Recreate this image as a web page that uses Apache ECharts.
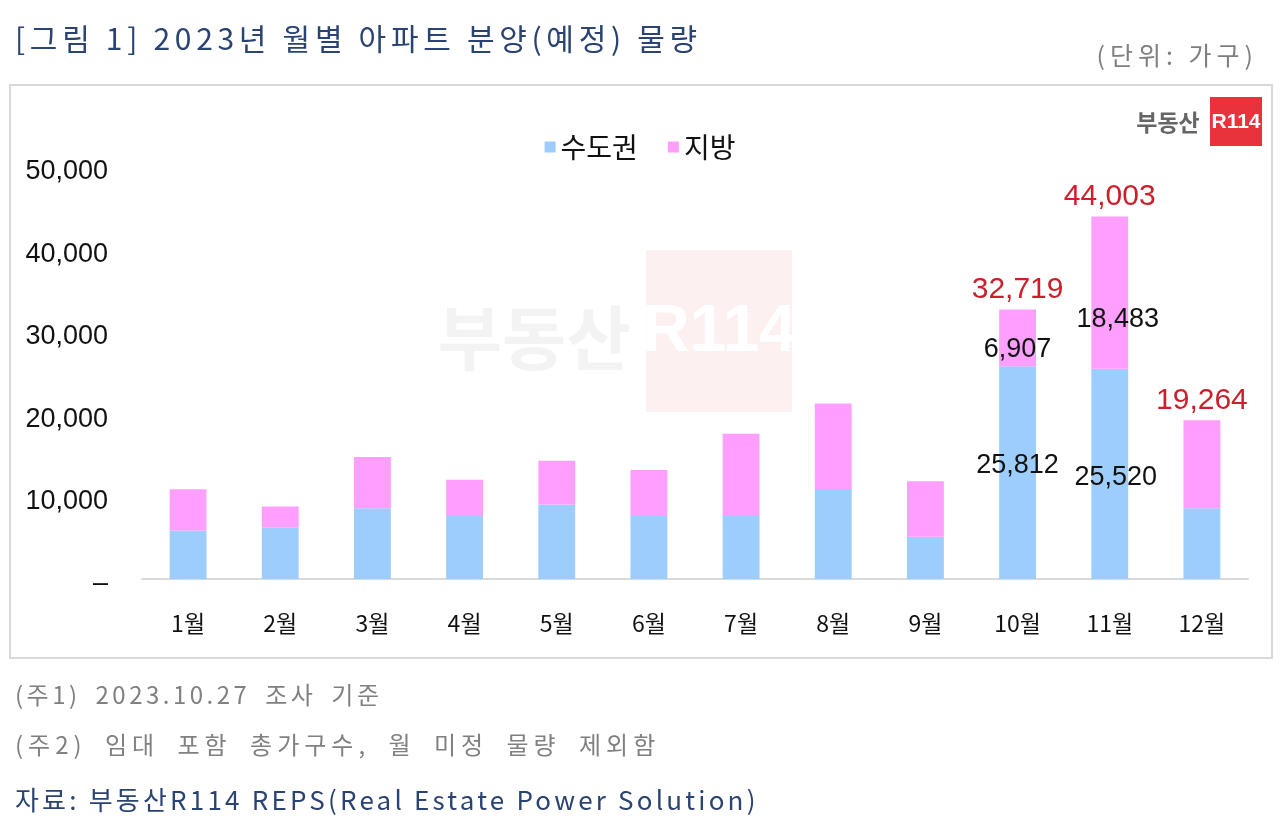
<!DOCTYPE html>
<html>
<head>
<meta charset="utf-8">
<script src="https://cdn.jsdelivr.net/npm/echarts@6/dist/echarts.min.js"></script>
<style>
  html, body { margin: 0; padding: 0; background: #fff; }
  .wrap { position: relative; width: 1280px; height: 827px; }
  #chart { width: 1280px; height: 827px; }
  .txt {
    position: absolute;
    font-family: "Noto Sans CJK KR", sans-serif;
    white-space: nowrap;
    line-height: 1;
  }
  .title { left: 15px; top: 22px; font-size: 30px; letter-spacing: 4.7px; color: #2a4372; }
  .unit { right: 22px; top: 42px; font-size: 25px; letter-spacing: 5px; color: #7f7f7f; }
  .note { left: 15px; font-size: 24px; letter-spacing: 3.5px; word-spacing: 6px; color: #808080; }
  .src { left: 15px; top: 786px; font-size: 26px; letter-spacing: 3.2px; color: #2a4372; }
</style>
</head>
<body>
<div class="wrap">
  <div id="chart"></div>
  <div class="txt title">[그림 1] 2023년 월별 아파트 분양(예정) 물량</div>
  <div class="txt unit">(단위: 가구)</div>
  <div class="txt note" style="top: 682px">(주1) 2023.10.27 조사 기준</div>
  <div class="txt note" style="top: 732px; letter-spacing: 5px; word-spacing: 8px">(주2) 임대 포함 총가구수, 월 미정 물량 제외함</div>
  <div class="txt src">자료: 부동산R114 REPS(Real Estate Power Solution)</div>
</div>
<script>
// 월별 분양 물량 (단위: 가구)
const months = ['1월', '2월', '3월', '4월', '5월', '6월', '7월', '8월', '9월', '10월', '11월', '12월']
const capital = [5880, 6280, 8580, 7660, 9030, 7660, 7660, 10930, 5120, 25812, 25520, 8580]
const local = [5000, 2510, 6230, 4400, 5330, 5580, 9980, 10380, 6730, 6907, 18483, 10684]
const totals = [null, null, null, null, null, null, null, null, null, 32719, 44003, 19264]
const yTicks = [0, 10000, 20000, 30000, 40000, 50000]

const FONT = '"Liberation Sans", "Noto Sans CJK KR", sans-serif'
const KFONT = '"Noto Sans CJK KR", sans-serif'

const fmt = v => v.toLocaleString('en-US')

// 라벨 위치 (막대 안 값 표시는 10월, 11월만)
const capitalLabel = { 9: [0, -7], 10: [6, 4] }
const localLabel = { 9: [0, 12], 10: [8, 27] }

function withLabels(values, offsets) {
  return values.map((v, i) => {
    if (!offsets[i]) return v
    return {
      value: v,
      label: {
        show: true,
        position: 'inside',
        offset: offsets[i],
        formatter: p => fmt(p.value)
      }
    }
  })
}

const chart = echarts.init(document.getElementById('chart'))

const option = {
  backgroundColor: '#fff',
  animation: false,
  legend: {
    data: ['수도권', '지방'],
    top: 128,
    left: 'center',
    itemWidth: 11,
    itemHeight: 11,
    itemGap: 30,
    icon: 'rect',
    textStyle: { fontFamily: KFONT, fontSize: 28, color: '#111' }
  },
  grid: { left: 142, right: 32, top: 167, bottom: 248 },
  xAxis: {
    type: 'category',
    data: months,
    axisLine: { lineStyle: { color: '#d9d9d9', width: 2 } },
    axisTick: { show: false },
    axisLabel: { margin: 33, fontFamily: KFONT, fontSize: 23, color: '#111' }
  },
  yAxis: {
    type: 'value',
    min: yTicks[0],
    max: yTicks[yTicks.length - 1],
    interval: yTicks[1] - yTicks[0],
    splitLine: { show: false },
    axisLine: { show: false },
    axisTick: { show: false },
    axisLabel: {
      margin: 34,
      verticalAlign: 'top',
      lineHeight: 10,
      fontFamily: FONT,
      fontSize: 27,
      color: '#111',
      formatter: v => (v === 0 ? '–' : fmt(v))
    }
  },
  series: [
    {
      name: '수도권',
      type: 'bar',
      stack: 'a',
      barWidth: '40%',
      itemStyle: { color: '#9dcdfd' },
      label: { show: false, fontFamily: FONT, fontSize: 27, color: '#111' },
      data: withLabels(capital, capitalLabel)
    },
    {
      name: '지방',
      type: 'bar',
      stack: 'a',
      barWidth: '40%',
      itemStyle: { color: '#fe9ffd' },
      label: { show: false, fontFamily: FONT, fontSize: 27, color: '#111' },
      data: withLabels(local, localLabel)
    },
    {
      name: '합계',
      type: 'bar',
      stack: 'a',
      barWidth: '40%',
      itemStyle: { color: 'transparent' },
      label: {
        show: true,
        position: 'top',
        distance: 5,
        fontFamily: FONT,
        fontSize: 30,
        color: '#cc1f2b',
        formatter: p => (totals[p.dataIndex] ? fmt(totals[p.dataIndex]) : '')
      },
      data: totals.map(() => 0)
    }
  ],
  graphic: [
    // 차트 테두리
    {
      type: 'rect', z: -10,
      shape: { x: 10, y: 85, width: 1262, height: 573 },
      style: { fill: 'none', stroke: '#d9d9d9', lineWidth: 2 }
    },
    // 워터마크
    {
      type: 'text', z: -5,
      style: { text: '부동산', x: 534, y: 338, align: 'center', verticalAlign: 'middle', font: 'bold 70px ' + KFONT, fill: '#f3f3f3' }
    },
    {
      type: 'rect', z: -5,
      shape: { x: 646, y: 250, width: 146, height: 162 },
      style: { fill: '#fdf0f0' }
    },
    {
      type: 'text', z: -4,
      style: { text: 'R114', x: 719, y: 333, align: 'center', verticalAlign: 'middle', font: 'bold 66px "Liberation Sans Narrow", "Liberation Sans", sans-serif', fill: '#ffffff' }
    },
    // 로고
    {
      type: 'text', z: 10,
      style: { text: '부동산', x: 1168, y: 122, align: 'center', verticalAlign: 'middle', font: 'bold 23px ' + KFONT, fill: '#666' }
    },
    {
      type: 'rect', z: 10,
      shape: { x: 1210, y: 97, width: 52, height: 49 },
      style: { fill: '#e8323c' }
    },
    {
      type: 'text', z: 11,
      style: { text: 'R114', x: 1236, y: 122, align: 'center', verticalAlign: 'middle', font: 'bold 21px "Liberation Sans Narrow", "Liberation Sans", sans-serif', fill: '#fff' }
    }
  ]
}

chart.setOption(option)
</script>
</body>
</html>
